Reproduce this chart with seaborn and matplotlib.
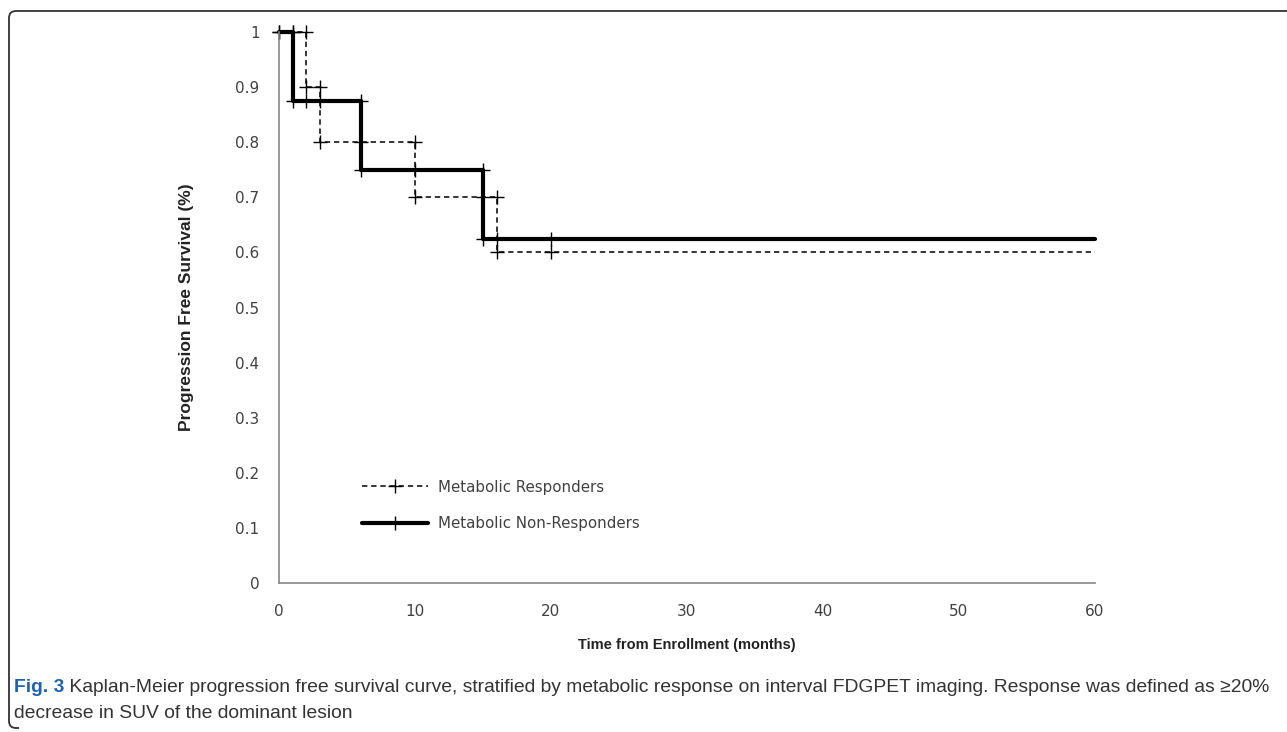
import numpy as np
import pandas as pd
import matplotlib
matplotlib.use("Agg")
import matplotlib.pyplot as plt
from matplotlib.path import Path
from matplotlib.patches import PathPatch
from matplotlib.ticker import FuncFormatter
import seaborn as sns

# Kaplan-Meier step points
months_resp = [0, 1, 2, 2, 3, 3, 6, 10, 10, 15, 16, 16, 20, 60]
pfs_resp = [1, 1, 1, 0.9, 0.9, 0.8, 0.8, 0.8, 0.7, 0.7, 0.7, 0.6, 0.6, 0.6]

months_nonresp = [0, 1, 1, 2, 3, 6, 6, 10, 15, 15, 16, 20, 60]
pfs_nonresp = [1, 1, 0.875, 0.875, 0.875, 0.875, 0.75, 0.75, 0.75, 0.625, 0.625, 0.625, 0.625]

group_names = ["Metabolic Responders", "Metabolic Non-Responders"]
x_ticks = [0, 10, 20, 30, 40, 50, 60]
y_ticks = [0, 0.1, 0.2, 0.3, 0.4, 0.5, 0.6, 0.7, 0.8, 0.9, 1]

caption_bold = "Fig. 3"
caption_line1 = (" Kaplan-Meier progression free survival curve, stratified by metabolic response "
                 "on interval FDGPET imaging. Response was defined as \u226520%")
caption_line2 = "decrease in SUV of the dominant lesion"

df_resp = pd.DataFrame({"months": months_resp, "pfs": pfs_resp})
df_nonresp = pd.DataFrame({"months": months_nonresp, "pfs": pfs_nonresp})

sns.set_style("white")
plt.rcParams["font.family"] = ["DejaVu Sans"]

W, H = 1287, 732
fig = plt.figure(figsize=(W / 100, H / 100), dpi=100)
ax = fig.add_axes([279 / W, 1 - 583 / H, (1095 - 279) / W, (583 - 32) / H])

text_grey = "#404040"

sns.lineplot(data=df_nonresp, x="months", y="pfs", ax=ax, color="black", lw=3.0,
             sort=False, estimator=None, marker="+", markersize=9.5, mew=1.0,
             markeredgecolor="black",
             markevery=list(range(len(months_nonresp) - 1)), clip_on=False,
             label=group_names[1])
sns.lineplot(data=df_resp, x="months", y="pfs", ax=ax, color="black", lw=1.1,
             sort=False, estimator=None, marker="+", markersize=9.5, mew=1.0,
             markeredgecolor="black",
             markevery=list(range(len(months_resp) - 1)), clip_on=False,
             label=group_names[0], dashes=(3.5, 2.5))

ax.set_xlim(0, 60)
ax.set_ylim(0, 1)
ax.set_xticks(x_ticks)
ax.set_yticks(y_ticks)
ax.yaxis.set_major_formatter(FuncFormatter(lambda v, p: f"{v:g}"))
ax.tick_params(length=0, labelsize=11, labelcolor=text_grey)
ax.tick_params(axis="x", pad=15)
ax.tick_params(axis="y", pad=14)
for s in ["top", "right"]:
    ax.spines[s].set_visible(False)
for s in ["left", "bottom"]:
    ax.spines[s].set_color("#888888")
    ax.spines[s].set_linewidth(1.2)

ax.set_xlabel("Time from Enrollment (months)", fontsize=10.5, fontweight="bold",
              family="Liberation Sans", color="#222222", labelpad=14)
ax.set_ylabel("Progression Free Survival (%)", fontsize=12.5, fontweight="bold",
              family="Liberation Sans", color="#222222", labelpad=30)

# legend: responders first, then non-responders
handles, labels = ax.get_legend_handles_labels()
order = [labels.index(n) for n in group_names]
leg = ax.legend([handles[i] for i in order], [labels[i] for i in order],
                loc="upper left", bbox_to_anchor=(348 / W, 1 - 466 / H),
                bbox_transform=fig.transFigure, frameon=False, numpoints=1,
                handlelength=4.4, handletextpad=0.7, labelspacing=1.45,
                fontsize=10.8, labelcolor=text_grey)

# caption
cap_y1 = 1 - 688 / H
cap_y2 = 1 - 713 / H
t1 = fig.text(14 / W, cap_y1, caption_bold, fontsize=13.9, fontweight="bold",
              family="Liberation Sans", color="#1f62b0", va="center")
fig.canvas.draw()
bb = t1.get_window_extent(fig.canvas.get_renderer())
fig.text(bb.x1 / W, cap_y1, caption_line1, fontsize=13.9, family="Liberation Sans",
         color="#333333", va="center")
fig.text(14 / W, cap_y2, caption_line2, fontsize=13.9, family="Liberation Sans",
         color="#333333", va="center")

# rounded frame on top-left like the journal figure box
r = 7
verts = [(W + 5, H - 11), (9 + r, H - 11), (9, H - 11), (9, H - 11 - r),
         (9, 4 + r), (9, 4), (9 + r, 4), (9 + r + 3, 4)]
codes = [Path.MOVETO, Path.LINETO, Path.CURVE3, Path.CURVE3,
         Path.LINETO, Path.CURVE3, Path.CURVE3, Path.LINETO]
frame = PathPatch(Path(verts, codes), transform=None, fill=False,
                  edgecolor="#333333", lw=1.3)
fig.patches.append(frame)

fig.savefig("out.png", dpi=100)
